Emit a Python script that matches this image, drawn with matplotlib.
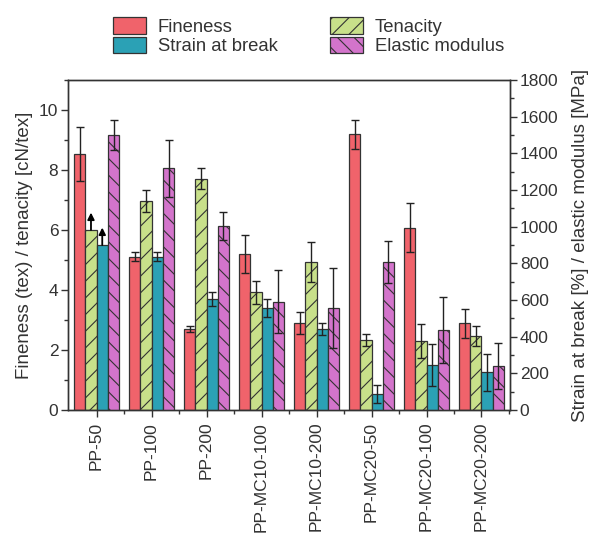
import matplotlib
matplotlib.use("Agg")
import matplotlib.pyplot as plt
from matplotlib.ticker import MultipleLocator
import numpy as np

plt.rcParams['font.family'] = ['Liberation Sans', 'DejaVu Sans']
plt.rcParams['hatch.linewidth'] = 0.8

samples = ["PP-50", "PP-100", "PP-200", "PP-MC10-100", "PP-MC10-200",
           "PP-MC20-50", "PP-MC20-100", "PP-MC20-200"]

# left axis (tex, cN/tex)
fineness = [8.53, 5.11, 2.71, 5.20, 2.90, 9.19, 6.08, 2.89]
fineness_err = [0.91, 0.15, 0.10, 0.64, 0.36, 0.48, 0.81, 0.49]
tenacity = [6.00, 6.97, 7.71, 3.92, 4.93, 2.34, 2.31, 2.47]
tenacity_err = [0.0, 0.36, 0.36, 0.38, 0.66, 0.19, 0.56, 0.34]

# right axis (%, MPa)
strain = [900, 836, 605, 555, 440, 87, 245, 206]
strain_err = [0, 24, 40, 50, 33, 47, 114, 100]
modulus = [1500, 1318, 1005, 591, 556, 807, 438, 240]
modulus_err = [82, 155, 76, 171, 220, 113, 180, 127]

c_fin = "#f0636b"
c_ten = "#c8e08a"
c_str = "#2ba1b5"
c_mod = "#d374cb"
edge = "#333333"
txt = "#333333"

fig = plt.figure(figsize=(5.89, 5.39), dpi=100)
ax = fig.add_axes([0.1155, 0.2393, 0.7505, 0.6123])
ax2 = ax.twinx()

x = np.arange(len(samples))
w = 0.205
ekw = dict(ecolor="#222222", elinewidth=1.0, capsize=3, capthick=1.0)

b1 = ax.bar(x - 1.5 * w, fineness, w, yerr=fineness_err, color=c_fin,
            edgecolor=edge, linewidth=0.9, error_kw=ekw, label="Fineness")
ten_err = [e if e > 0 else np.nan for e in tenacity_err]
b2 = ax.bar(x - 0.5 * w, tenacity, w, yerr=ten_err, color=c_ten,
            edgecolor=edge, linewidth=0.9, hatch="//", error_kw=ekw, label="Tenacity")
str_err = [e if e > 0 else np.nan for e in strain_err]
b3 = ax2.bar(x + 0.5 * w, strain, w, yerr=str_err, color=c_str,
             edgecolor=edge, linewidth=0.9, error_kw=ekw, label="Strain at break")
b4 = ax2.bar(x + 1.5 * w, modulus, w, yerr=modulus_err, color=c_mod,
             edgecolor=edge, linewidth=0.9, hatch="\\\\", error_kw=ekw, label="Elastic modulus")

# arrows: PP-50 values are lower limits
ax.annotate("", xy=(x[0] - 0.5 * w, tenacity[0] + 0.58), xytext=(x[0] - 0.5 * w, tenacity[0]),
            arrowprops=dict(arrowstyle="-|>", color="black", lw=1.3, mutation_scale=10,
                            shrinkA=0, shrinkB=0))
ax2.annotate("", xy=(x[0] + 0.5 * w, strain[0] + 95), xytext=(x[0] + 0.5 * w, strain[0]),
             arrowprops=dict(arrowstyle="-|>", color="black", lw=1.3, mutation_scale=10,
                             shrinkA=0, shrinkB=0))

ax.set_xlim(-0.52, len(samples) - 0.48)
ax.set_ylim(0, 11)
ax2.set_ylim(0, 1800)

ax.set_xticks(x)
ax.set_xticklabels(samples, rotation=90, fontsize=13.2, color=txt)
ax.set_xticks(x + 0.5, minor=True)
ax.yaxis.set_major_locator(MultipleLocator(2))
ax.yaxis.set_minor_locator(MultipleLocator(1))
ax2.yaxis.set_major_locator(MultipleLocator(200))
ax2.yaxis.set_minor_locator(MultipleLocator(100))

for a in (ax, ax2):
    a.tick_params(which="major", direction="out", length=5, width=1, colors=edge, labelsize=12.5, labelcolor=txt)
    a.tick_params(which="minor", direction="out", length=3, width=1, colors=edge)
    for s in a.spines.values():
        s.set_color(edge)
        s.set_linewidth(1.0)
ax.tick_params(axis="y", which="major", pad=2)
ax2.tick_params(axis="y", which="major", pad=2)

ax.set_ylabel("Fineness (tex) / tenacity [cN/tex]", fontsize=13.5, color=txt, labelpad=4)
ax2.set_ylabel("Strain at break [%] / elastic modulus [MPa]", fontsize=13.5, color=txt, labelpad=10)

fig.legend([b1, b3, b2, b4], ["Fineness", "Strain at break", "Tenacity", "Elastic modulus"],
           ncol=2, loc="upper left", bbox_to_anchor=(112.7 / 589, 1 - 17 / 539), frameon=False,
           fontsize=13.3, handlelength=1.8, handleheight=1.0, columnspacing=2.8,
           labelspacing=0.05, handletextpad=0.65, borderpad=0, borderaxespad=0,
           labelcolor=txt)

fig.savefig("out.png", dpi=100)
